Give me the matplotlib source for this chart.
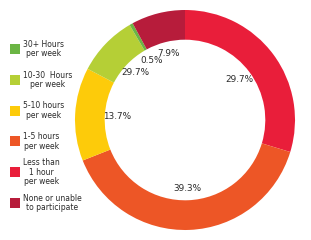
import numpy as np
import matplotlib
matplotlib.use("Agg")
import matplotlib.pyplot as plt
from matplotlib.patches import Rectangle

# Data (clockwise from top)
categories = ["Less than\n1 hour\nper week", "1-5 hours\nper week", "5-10 hours\nper week",
              "10-30  Hours\nper week", "30+ Hours\nper week", "None or unable\nto participate"]
shares = [29.7, 39.3, 13.7, 8.9, 0.5, 7.9]
pct_labels = ["29.7%", "39.3%", "13.7%", "29.7%", "0.5%", "7.9%"]
colors = ["#e91e3a", "#ed5626", "#fdcb0a", "#b5cf36", "#6bb544", "#b71c3b"]

# Legend order (top to bottom)
legend_order = [4, 3, 2, 1, 0, 5]

plt.rcParams['font.family'] = ['DejaVu Sans']
fig = plt.figure(figsize=(3.11, 2.40), dpi=100)
fig.patch.set_facecolor("white")

W, H = 311, 240
cx, cy, R = 185, 120, 110
ax = fig.add_axes([(cx - R) / W, (H - cy - R) / H, 2 * R / W, 2 * R / H])
wedges, _ = ax.pie(shares, colors=colors, startangle=90, counterclock=False,
                   radius=1.0, wedgeprops=dict(width=0.27, linewidth=0))
for w, lab in zip(wedges, pct_labels):
    ang = np.deg2rad((w.theta1 + w.theta2) / 2)
    ax.text(0.62 * np.cos(ang), 0.62 * np.sin(ang), lab, ha="center", va="center",
            fontsize=6.4, color="#2a2a2a")
ax.set_xlim(-1, 1)
ax.set_ylim(-1, 1)
ax.set_aspect("equal")
ax.axis("off")

# Manual legend
lax = fig.add_axes([0, 0, 1, 1])
lax.set_xlim(0, W)
lax.set_ylim(H, 0)
lax.axis("off")
y0, dy = 49, 30.8
for i, idx in enumerate(legend_order):
    y = y0 + i * dy
    lax.add_patch(Rectangle((10, y - 5), 10, 10, facecolor=colors[idx], edgecolor="none"))
    lax.text(23, y, categories[idx], ha="left", va="center", multialignment="center",
             fontsize=5.5, linespacing=1.05, color="#2a2a2a")

fig.savefig("out.png", dpi=100, facecolor=fig.get_facecolor())
